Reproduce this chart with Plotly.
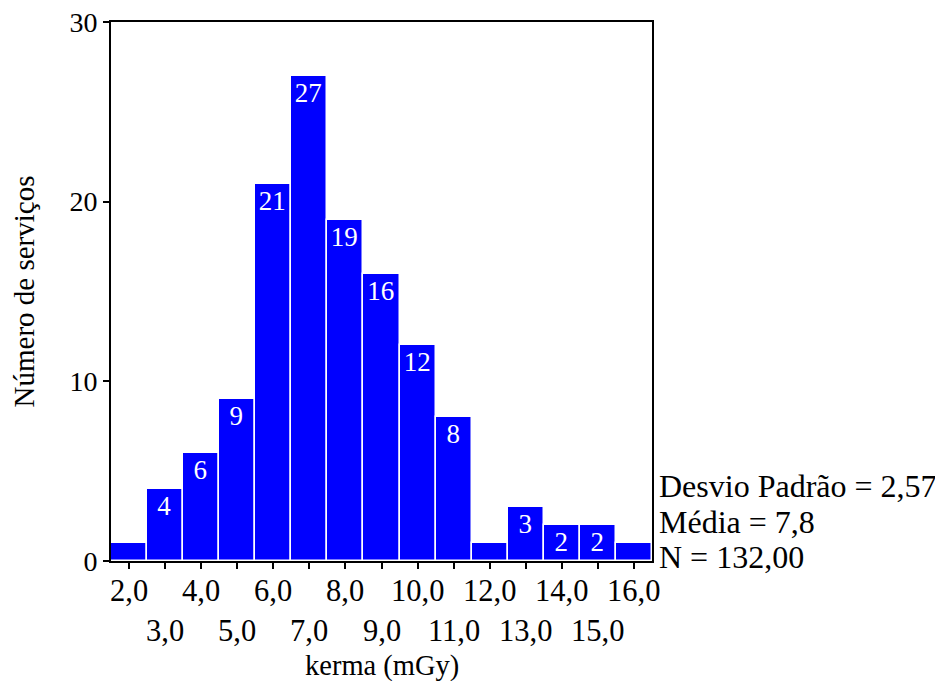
import plotly.graph_objects as go

kerma = [2, 3, 4, 5, 6, 7, 8, 9, 10, 11, 12, 13, 14, 15, 16]
counts = [1, 4, 6, 9, 21, 27, 19, 16, 12, 8, 1, 3, 2, 2, 1]
tick_labels = ["2,0", "3,0", "4,0", "5,0", "6,0", "7,0", "8,0", "9,0",
               "10,0", "11,0", "12,0", "13,0", "14,0", "15,0", "16,0"]
y_ticks = [0, 10, 20, 30]
stats = ["Desvio Padrão = 2,57", "Média = 7,8", "N = 132,00"]

FONT = "Liberation Serif, Times New Roman, serif"

fig = go.Figure()
fig.add_trace(go.Bar(
    x=kerma, y=counts, width=1,
    marker=dict(color="#0000FF", line=dict(color="white", width=1.5)),
    text=[str(c) if c > 1 else "" for c in counts],
    textposition="inside", insidetextanchor="end", textangle=0,
    constraintext="none",
    insidetextfont=dict(family=FONT, size=27, color="white"),
    hoverinfo="skip",
))

annotations = []
for i, (k, lab) in enumerate(zip(kerma, tick_labels)):
    annotations.append(dict(
        x=k, y=0, xref="x", yref="paper", text=lab, showarrow=False,
        xanchor="center", yanchor="middle",
        yshift=-30 if i % 2 == 0 else -70,
        font=dict(family=FONT, size=30.5, color="black"),
    ))
for j, s in enumerate(stats):
    annotations.append(dict(
        x=1, y=[0.139, 0.072, 0.0074][j], xref="paper", yref="paper",
        text=s, showarrow=False, xanchor="left", yanchor="middle", xshift=5,
        font=dict(family=FONT, size=32, color="black"),
    ))
annotations.append(dict(
    x=0.5, y=0, xref="paper", yref="paper", text="kerma (mGy)",
    showarrow=False, xanchor="center", yanchor="middle", yshift=-105,
    font=dict(family=FONT, size=28.5, color="black"),
))

# page body adds an 8px margin, so the figure is shifted by 8px
fig.update_layout(
    width=935, height=673,
    margin=dict(l=103, r=291, t=14, b=120, autoexpand=False),
    paper_bgcolor="white", plot_bgcolor="white",
    showlegend=False, bargap=0,
    font=dict(family=FONT, size=28, color="black"),
    annotations=annotations,
    xaxis=dict(
        range=[1.5, 16.5], tickvals=kerma, showticklabels=False,
        ticks="outside", ticklen=6, tickwidth=1.5, tickcolor="black",
        showline=True, linecolor="black", linewidth=2, mirror=True,
        showgrid=False, zeroline=False,
    ),
    yaxis=dict(
        range=[0, 30], tickvals=y_ticks,
        ticks="outside", ticklen=6, tickwidth=1.5, tickcolor="black",
        showline=True, linecolor="black", linewidth=2, mirror=True,
        showgrid=False, zeroline=False, ticklabeloverflow="allow",
        tickfont=dict(family=FONT, size=28),
        title=dict(text="Número de serviços", standoff=26,
                   font=dict(family=FONT, size=29)),
    ),
)

fig.write_html("out.html")
